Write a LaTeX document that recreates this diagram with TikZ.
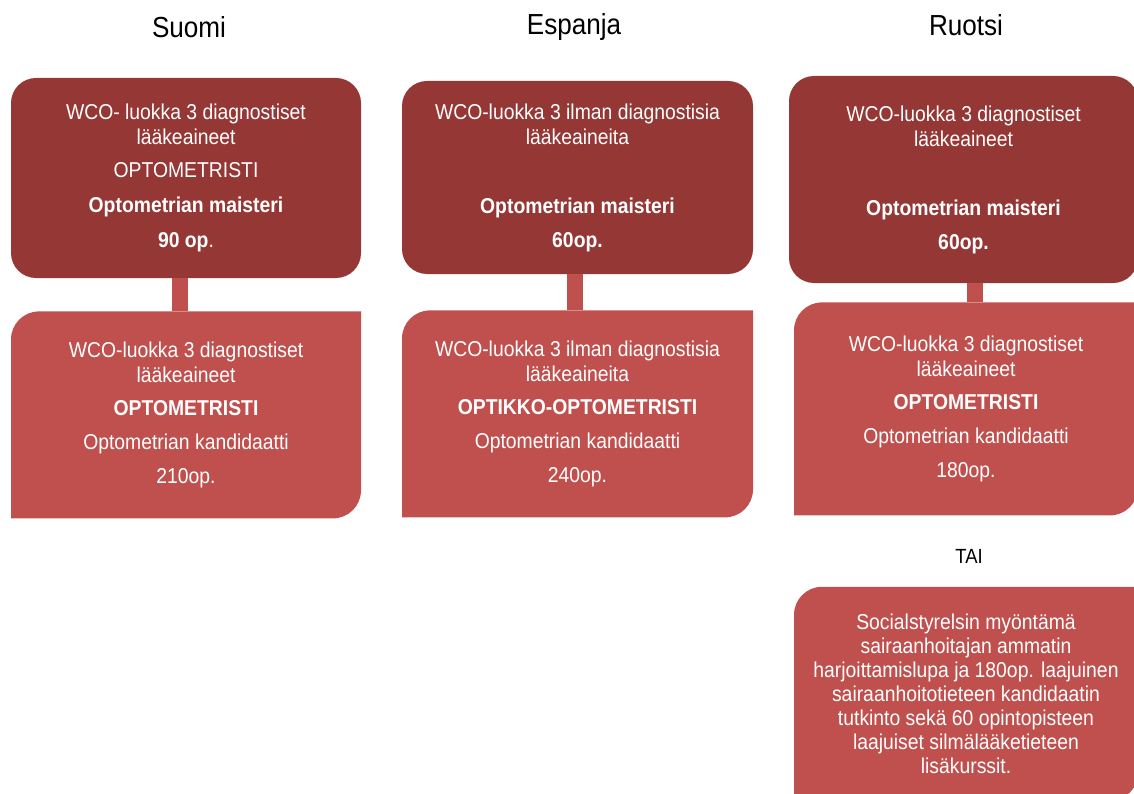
\documentclass[tikz,border=0pt]{standalone}
\usepackage{fontspec}
\setmainfont{Liberation Sans}[FakeStretch=0.9]
\usepackage{xcolor}
\usetikzlibrary{positioning}

\definecolor{darkred}{HTML}{953735}
\definecolor{lightred}{HTML}{C0504D}
\newcommand{\bodyfont}{\fontsize{21.5}{25}\selectfont}
\newcommand{\headfont}{\fontsize{29}{34}\selectfont}

\begin{document}
\begin{tikzpicture}[
    x=1pt, y=1pt,
    title/.style={anchor=base, font=\headfont},
    masterbox/.style={rectangle, fill=darkred, rounded corners=25pt, text=white, align=center, font=\bodyfont, inner sep=0pt},
    bachbox/.style={rectangle, text=white, align=center, font=\bodyfont, inner sep=0pt,
        path picture={\fill[lightred] (path picture bounding box.south west) -- ([yshift=-28pt]path picture bounding box.north west) arc[start angle=180, end angle=90, radius=28pt] -- (path picture bounding box.north east) -- ([yshift=28pt]path picture bounding box.south east) arc[start angle=0, end angle=-90, radius=28pt] -- cycle;}},
    link/.style={draw=lightred, line width=16pt}
]
\useasboundingbox (0,0) rectangle (1134,-794);

% Titles
\node [title] (suomi) at (189,-38) {Suomi};
\node [title] (espanja) at (574,-35) {Espanja};
\node [title] (ruotsi) at (966,-36) {Ruotsi};

% Nodes
\node [masterbox, minimum width=350pt, minimum height=200pt] (suomiM) at (186,-178) {WCO- luokka 3 diagnostiset\\ lääkeaineet\\[8pt] OPTOMETRISTI\\[10pt] \textbf{Optometrian maisteri}\\[10pt] \textbf{90 op}.};
\node [bachbox, minimum width=350pt, minimum height=207pt, below=33pt of suomiM] (suomiK) {WCO-luokka 3 diagnostiset\\ lääkeaineet\\[8pt] \textbf{OPTOMETRISTI}\\[9pt] Optometrian kandidaatti\\[9pt] 210op.};

\node [masterbox, minimum width=351pt, minimum height=193pt] (espM) at (577.5,-177.5) {WCO-luokka 3 ilman diagnostisia\\ lääkeaineita\\[44pt] \textbf{Optometrian maisteri}\\[9pt] \textbf{60op.}};
\node [bachbox, minimum width=351pt, minimum height=207pt, below=36pt of espM] (espK) {WCO-luokka 3 ilman diagnostisia\\ lääkeaineita\\[8pt] \textbf{OPTIKKO-OPTOMETRISTI}\\[9pt] Optometrian kandidaatti\\[9pt] 240op.};

\node [masterbox, minimum width=349pt, minimum height=207pt] (ruoM) at (963.5,-179.5) {WCO-luokka 3 diagnostiset\\ lääkeaineet\\[44pt] \textbf{Optometrian maisteri}\\[9pt] \textbf{60op.}};
\node [bachbox, minimum width=344pt, minimum height=213pt, below=19pt of ruoM, xshift=2.5pt] (ruoK) {WCO-luokka 3 diagnostiset\\ lääkeaineet\\[8pt] \textbf{OPTOMETRISTI}\\[9pt] Optometrian kandidaatti\\[9pt] 180op.};

\node [font=\fontsize{20.5}{24}\selectfont, anchor=base] (tai) at (969,-563) {TAI};
\node [bachbox, minimum width=344pt, minimum height=214pt, below=71pt of ruoK, font=\fontsize{21.5}{24}\selectfont] (ruoS) {Socialstyrelsin myöntämä\\ sairaanhoitajan ammatin\\ harjoittamislupa ja 180op. laajuinen\\ sairaanhoitotieteen kandidaatin\\ tutkinto sekä 60 opintopisteen\\ laajuiset silmälääketieteen\\ lisäkurssit.};

% Links
\draw [link] ([xshift=-6pt]suomiM.south) -- ([xshift=-6pt]suomiK.north);
\draw [link] ([xshift=-2.5pt]espM.south) -- ([xshift=-2.5pt]espK.north);
\draw [link] ([xshift=11pt]ruoM.south) -- ([xshift=8.5pt]ruoK.north);

\end{tikzpicture}
\end{document}
